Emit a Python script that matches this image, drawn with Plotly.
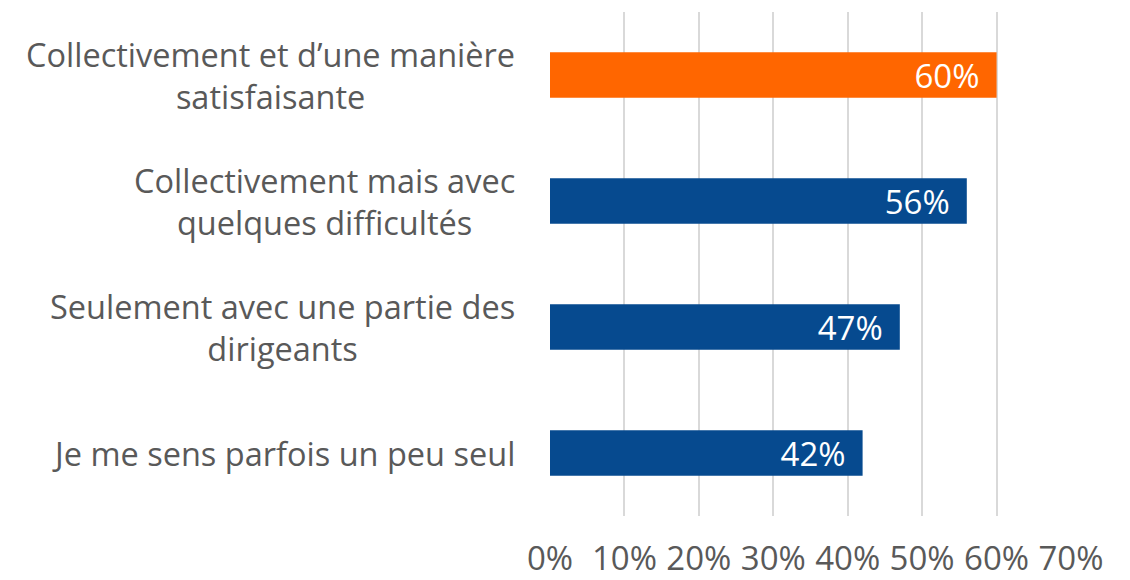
import plotly.graph_objects as go

categories = [
    "Collectivement et d’une manière<br>satisfaisante",
    "Collectivement mais avec<br>quelques difficultés",
    "Seulement avec une partie des<br>dirigeants",
    "Je me sens parfois un peu seul",
]
values = [60, 56, 47, 42]
colors = ["#FF6600", "#064A8F", "#064A8F", "#064A8F"]
tick_vals = [0, 10, 20, 30, 40, 50, 60, 70]
tick_text = [f"{t}%" for t in tick_vals]

FONT = "Open Sans"
GREY = "#595959"

fig = go.Figure(go.Bar(
    x=values,
    y=categories,
    orientation="h",
    marker=dict(color=colors, line=dict(width=0)),
    text=[f"{v}%\u00a0\u2009" for v in values],
    textposition="inside",
    insidetextanchor="end",
    constraintext="none",
    textfont=dict(family=FONT, size=33, color="white"),
    cliponaxis=False,
))

for c in categories:
    fig.add_annotation(
        x=0, xref="paper", y=c, yref="y",
        text=c, showarrow=False, xanchor="right", align="center",
        xshift=-33,
        font=dict(family=FONT, size=32.5, color=GREY),
    )

fig.update_layout(
    width=1122, height=572,
    margin=dict(l=542, r=59, t=4, b=64),
    plot_bgcolor="white", paper_bgcolor="white",
    bargap=0.64,
    showlegend=False,
    xaxis=dict(
        range=[0, 70], tickvals=tick_vals, ticktext=tick_text,
        showgrid=True, gridcolor="#D9D9D9", gridwidth=2,
        zeroline=False, showline=False, automargin=False,
        tickfont=dict(family=FONT, size=33, color=GREY),
        ticklabelstandoff=20,
    ),
    yaxis=dict(
        categoryorder="array", categoryarray=categories[::-1],
        showticklabels=False, showgrid=False, zeroline=False,
        automargin=False,
    ),
)

fig.write_html("out.html")
